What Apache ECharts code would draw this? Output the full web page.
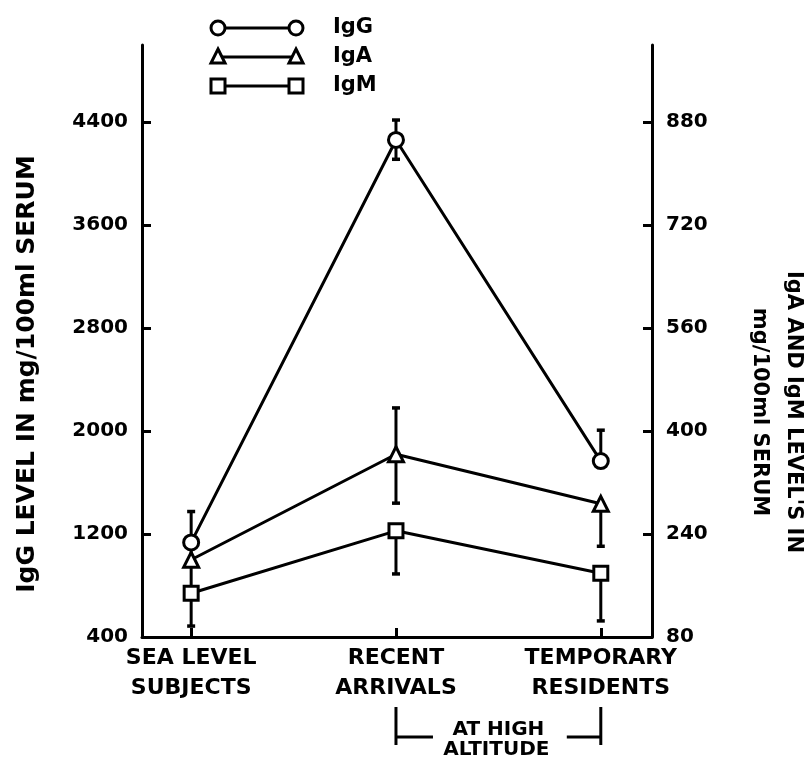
<!DOCTYPE html>
<html>
<head>
<meta charset="utf-8">
<script src="https://cdn.jsdelivr.net/npm/echarts@6/dist/echarts.min.js"></script>
<style>
html,body{margin:0;padding:0;background:#fff;}
#c{width:806px;height:761px;}
</style>
</head>
<body>
<div id="c"></div>
<script>
// ---- data ----
const categories = ['SEA LEVEL\nSUBJECTS', 'RECENT\nARRIVALS', 'TEMPORARY\nRESIDENTS'];
const seriesNames = ['IgG', 'IgA', 'IgM'];
const igG = [1135, 4262, 1767];
const igGErrUp = [240, 155, 240];
const igGErrDown = [0, 150, 0];
const igA = [200, 364, 287];
const igAErrUp = [29, 72, 0];
const igAErrDown = [0, 76, 66];
const igM = [148, 245, 179];
const igMErrUp = [47, 0, 0];
const igMErrDown = [51, 67, 74];
const leftTicks = [400, 1200, 2000, 2800, 3600, 4400];
const rightTicks = [80, 240, 400, 560, 720, 880];
const catIndex = [0, 1, 2];

const FONT = 'DejaVu Sans';
const chart = echarts.init(document.getElementById('c'), null, {renderer: 'canvas'});

function pts(vals) { return vals.map((v, i) => [catIndex[i], v]); }
function errs(vals, up, dn) { return vals.map((v, i) => [catIndex[i], v, up[i], dn[i]]); }

function errRender(params, api) {
  const x = api.value(0), v = api.value(1), up = api.value(2), dn = api.value(3);
  const top = api.coord([x, v + up]);
  const bot = api.coord([x, v - dn]);
  const children = [{
    type: 'line', shape: {x1: top[0], y1: top[1], x2: bot[0], y2: bot[1]},
    style: {stroke: '#000', lineWidth: 3}
  }];
  const hw = 4;
  if (up > 0) children.push({type: 'line', shape: {x1: top[0] - hw, y1: top[1], x2: top[0] + hw, y2: top[1]}, style: {stroke: '#000', lineWidth: 3.5}});
  if (dn > 0) children.push({type: 'line', shape: {x1: bot[0] - hw, y1: bot[1], x2: bot[0] + hw, y2: bot[1]}, style: {stroke: '#000', lineWidth: 3.5}});
  return {type: 'group', children};
}

const symbols = ['circle', 'triangle', 'rect'];
const lineSeries = (name, data, yIdx, sym) => ({
  name, type: 'line', data: pts(data), yAxisIndex: yIdx,
  symbol: sym, symbolSize: sym === 'rect' ? 14 : 15,
  lineStyle: {color: '#000', width: 3},
  itemStyle: {color: '#fff', borderColor: '#000', borderWidth: 3},
  z: 3, silent: true
});
const errSeries = (data, yIdx) => ({
  type: 'custom', yAxisIndex: yIdx, renderItem: errRender, data, z: 2, silent: true,
  encode: {x: 0, y: 1}
});

const option = {
  animation: false,
  backgroundColor: '#fff',
  grid: {left: 142, right: 154, top: 45, bottom: 124, containLabel: false},
  xAxis: {
    type: 'value', min: -0.24, max: 2.25,
    axisLine: {show: true, onZero: false, lineStyle: {color: '#000', width: 3}},
    axisTick: {show: true, inside: true, length: 9, customValues: catIndex, lineStyle: {color: '#000', width: 3}},
    axisLabel: {
      customValues: catIndex, formatter: v => categories[Math.round(v)],
      color: '#000', fontFamily: FONT, fontWeight: 'bold', fontSize: 22, lineHeight: 30, margin: 6
    },
    splitLine: {show: false}
  },
  yAxis: [{
    type: 'value', min: 400, max: 5000, position: 'left',
    axisLine: {show: true, onZero: false, lineStyle: {color: '#000', width: 3}},
    axisTick: {show: true, inside: true, length: 9, customValues: leftTicks, lineStyle: {color: '#000', width: 3}},
    axisLabel: {customValues: leftTicks, formatter: v => String(v), color: '#000', fontFamily: FONT, fontWeight: 'bold', fontSize: 20, margin: 14},
    splitLine: {show: false}
  }, {
    type: 'value', min: 80, max: 1000, position: 'right',
    axisLine: {show: true, onZero: false, lineStyle: {color: '#000', width: 3}},
    axisTick: {show: true, inside: true, length: 9, customValues: rightTicks, lineStyle: {color: '#000', width: 3}},
    axisLabel: {customValues: rightTicks, formatter: v => String(v), color: '#000', fontFamily: FONT, fontWeight: 'bold', fontSize: 20, margin: 14},
    splitLine: {show: false}
  }],
  series: [
    errSeries(errs(igG, igGErrUp, igGErrDown), 0),
    errSeries(errs(igA, igAErrUp, igAErrDown), 1),
    errSeries(errs(igM, igMErrUp, igMErrDown), 1),
    lineSeries(seriesNames[0], igG, 0, symbols[0]),
    lineSeries(seriesNames[1], igA, 1, symbols[1]),
    lineSeries(seriesNames[2], igM, 1, symbols[2])
  ]
};
chart.setOption(option);

// ---- annotations: legend, axis names, altitude bracket ----
const g = [];
const legY = [28, 57, 86];
const legX1 = 218, legX2 = 296;
function sym(kind, x, y) {
  const st = {fill: '#fff', stroke: '#000', lineWidth: 3};
  if (kind === 'circle') return {type: 'circle', shape: {cx: x, cy: y, r: 7}, style: st, z: 10};
  if (kind === 'triangle') return {type: 'polygon', shape: {points: [[x, y - 8], [x + 7, y + 6], [x - 7, y + 6]]}, style: st, z: 10};
  return {type: 'rect', shape: {x: x - 7, y: y - 7, width: 14, height: 14}, style: st, z: 10};
}
seriesNames.forEach((n, i) => {
  g.push({type: 'line', shape: {x1: legX1, y1: legY[i], x2: legX2, y2: legY[i]}, style: {stroke: '#000', lineWidth: 3}, z: 9});
  g.push(sym(symbols[i], legX1, legY[i]));
  g.push(sym(symbols[i], legX2, legY[i]));
  g.push({type: 'text', x: 333, y: legY[i], style: {text: n, font: 'bold 21px ' + FONT, fill: '#000', textAlign: 'left', textVerticalAlign: 'middle'}, z: 10});
});
g.push({type: 'text', x: 27, y: 374, rotation: Math.PI / 2,
  style: {text: 'IgG LEVEL IN mg/100ml SERUM', font: 'bold 25px ' + FONT, fill: '#000', textAlign: 'center', textVerticalAlign: 'middle'}});
g.push({type: 'text', x: 776, y: 412, rotation: -Math.PI / 2,
  style: {text: "IgA AND IgM LEVEL'S IN\nmg/100ml SERUM", font: 'bold 21px ' + FONT, lineHeight: 34, fill: '#000', textAlign: 'center', textVerticalAlign: 'middle'}});

const p1 = chart.convertToPixel({xAxisIndex: 0}, catIndex[1]);
const p2 = chart.convertToPixel({xAxisIndex: 0}, catIndex[2]);
const bTop = 707, bBot = 745, bMid = 737;
const lw = {stroke: '#000', lineWidth: 3};
g.push({type: 'line', shape: {x1: p1, y1: bTop, x2: p1, y2: bBot}, style: lw});
g.push({type: 'line', shape: {x1: p2, y1: bTop, x2: p2, y2: bBot}, style: lw});
g.push({type: 'line', shape: {x1: p1, y1: bMid, x2: p1 + 37, y2: bMid}, style: lw});
g.push({type: 'line', shape: {x1: p2 - 34, y1: bMid, x2: p2, y2: bMid}, style: lw});
g.push({type: 'text', x: (p1 + p2) / 2, y: 730, style: {text: 'AT HIGH', font: 'bold 20px ' + FONT, fill: '#000', textAlign: 'center', textVerticalAlign: 'middle'}});
g.push({type: 'text', x: (p1 + p2) / 2 - 2, y: 750, style: {text: 'ALTITUDE', font: 'bold 20px ' + FONT, fill: '#000', textAlign: 'center', textVerticalAlign: 'middle'}});
chart.setOption({graphic: g});
</script>
</body>
</html>
